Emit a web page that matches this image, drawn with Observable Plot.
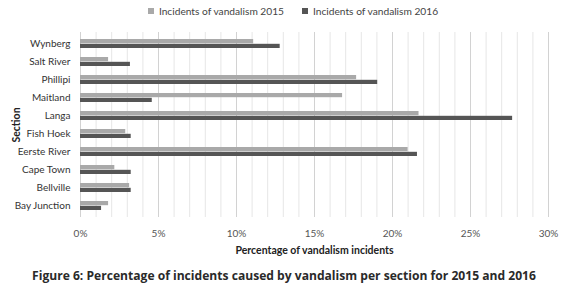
<!DOCTYPE html>
<html>
<head>
<meta charset="utf-8">
<script src="https://cdn.jsdelivr.net/npm/d3@7"></script>
<script src="https://cdn.jsdelivr.net/npm/@observablehq/plot@0.6"></script>
<style>
  html, body { margin: 0; padding: 0; background: #fff; }
  body { width: 580px; height: 290px; overflow: hidden; font-family: Lato, "Open Sans", sans-serif; }
  #legend { height: 22px; display: flex; justify-content: center; align-items: center; gap: 18px; font-size: 10.2px; color: #444; padding-left: 6px; box-sizing: border-box; width: 580px; }
  #legend span.sw { display: inline-block; width: 6px; height: 6px; margin-right: 5px; vertical-align: middle; position: relative; top: -1px; }
  #caption { font-family: "Open Sans", sans-serif; font-weight: bold; font-size: 12.1px; color: #2a2a2a; text-align: center; margin-top: 9px; padding-right: 12px; box-sizing: border-box; width: 580px; }
</style>
</head>
<body>
<div id="legend"></div>
<div id="chart"></div>
<div id="caption">Figure 6: Percentage of incidents caused by vandalism per section for 2015 and 2016</div>
<script>
const sections = ["Wynberg", "Salt River", "Phillipi", "Maitland", "Langa", "Fish Hoek", "Eerste River", "Cape Town", "Bellville", "Bay Junction"];
const values2015 = [11.1, 1.8, 17.7, 16.8, 21.7, 2.9, 21.0, 2.2, 3.15, 1.8];
const values2016 = [12.8, 3.2, 19.05, 4.6, 27.7, 3.25, 21.6, 3.25, 3.25, 1.35];
const seriesNames = ["Incidents of vandalism 2015", "Incidents of vandalism 2016"];
const seriesColors = ["#a9a9a9", "#555555"];
const majorTicks = [0, 5, 10, 15, 20, 25, 30];
const minorTicks = d3.range(0, 31, 1);

const rows2015 = sections.map((s, i) => ({section: s, value: values2015[i]}));
const rows2016 = sections.map((s, i) => ({section: s, value: values2016[i]}));

const legend = document.getElementById("legend");
seriesNames.forEach((n, i) => {
  const d = document.createElement("div");
  d.innerHTML = `<span class="sw" style="background:${seriesColors[i]}"></span>${n}`;
  legend.appendChild(d);
});

const chart = Plot.plot({
  width: 580,
  height: 236,
  marginTop: 10,
  marginBottom: 41,
  marginLeft: 80,
  marginRight: 32,
  style: {fontFamily: "Lato, 'Open Sans', sans-serif", fontSize: "10px", color: "#333", background: "#fff"},
  x: {domain: [0, 30]},
  y: {domain: sections, paddingInner: 0.48, paddingOuter: 0.24},
  marks: [
    Plot.ruleX(minorTicks, {stroke: "#e6e6e6", strokeWidth: 1}),
    Plot.ruleX(majorTicks, {stroke: "#d2d2d2", strokeWidth: 1}),
    Plot.barX(rows2015, {y: "section", x: "value", fill: seriesColors[0], insetBottom: 4.8}),
    Plot.barX(rows2016, {y: "section", x: "value", fill: seriesColors[1], insetTop: 4.8}),
    Plot.axisX({ticks: majorTicks, tickFormat: d => d + "%", tickSize: 0, tickPadding: 12, fill: "#555", label: null}),
    Plot.axisX({ticks: [], label: "Percentage of vandalism incidents", labelAnchor: "center", labelArrow: "none", labelOffset: 36, fill: "#222", fontWeight: "bold", fontSize: "10.5px"}),
    Plot.axisY({tickSize: 0, tickPadding: 10, fill: "#333", label: null}),
    Plot.axisY({ticks: [], label: "Section", labelAnchor: "center", labelArrow: "none", labelOffset: 68, fill: "#222", fontWeight: "bold", fontSize: "10.5px"})
  ]
});
document.getElementById("chart").appendChild(chart);
</script>
</body>
</html>
